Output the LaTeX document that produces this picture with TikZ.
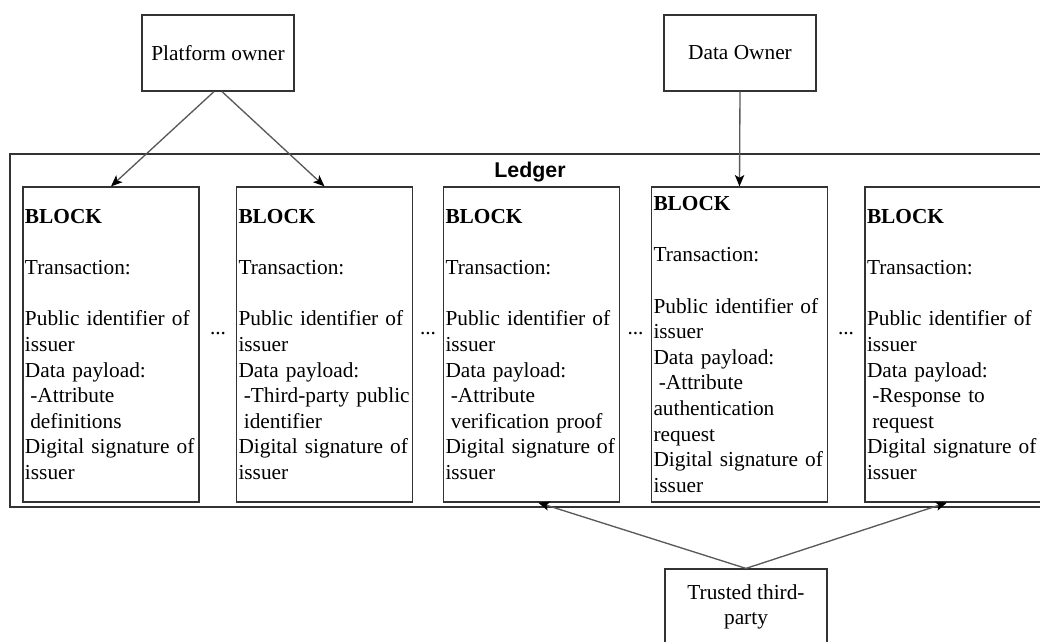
\documentclass[tikz,border=0pt]{standalone}
\usepackage{fontspec}
\setmainfont{Liberation Serif}
\newfontfamily\ledgerfont{Liberation Sans}
\usepackage{xcolor}
\usetikzlibrary{arrows.meta}
\definecolor{boxline}{HTML}{333333}
\definecolor{arrowline}{HTML}{595959}
\newcommand{\ind}{\hspace*{0.25em}}

\begin{document}
\begin{tikzpicture}[x=0.75pt, y=-0.75pt,
    actor/.style={draw=boxline, line width=0.9pt, minimum width=114pt, minimum height=57pt,
        align=center, inner sep=2pt, font=\fontsize{16pt}{19.2pt}\selectfont},
    blockbox/.style={draw=boxline, line width=0.9pt, minimum width=132pt, minimum height=236.25pt,
        text width=129pt, inner xsep=1.5pt, align=left, font=\fontsize{16pt}{19.2pt}\selectfont},
    gap/.style={font=\fontsize{16pt}{19.2pt}\selectfont, inner sep=0pt},
    link/.style={draw=arrowline, line width=1pt, -{Stealth[length=8.5pt, width=7pt, inset=2pt, color=black]}}]
        \useasboundingbox (0,0) rectangle (1040,642);

        % The ledger frame
        \node[draw=boxline, line width=0.9pt, minimum width=787.5pt, minimum height=264.75pt, inner sep=0pt] (ledger) at (535,330.5) {};
        \node[font=\ledgerfont\bfseries\fontsize{16pt}{19.2pt}\selectfont, anchor=base] (ledgerlabel) at (530,177) {Ledger};

        % The blocks
        \node[blockbox] (b1) at (111,344.5) {\textbf{BLOCK}\\[\baselineskip]Transaction:\\[\baselineskip]Public identifier of\\issuer\\Data payload:\\\ind-Attribute\\\ind definitions\\Digital signature of\\issuer};
        \node[blockbox] (b2) at (324.5,344.5) {\textbf{BLOCK}\\[\baselineskip]Transaction:\\[\baselineskip]Public identifier of\\issuer\\Data payload:\\\ind-Third-party public\\\ind identifier\\Digital signature of\\issuer};
        \node[blockbox] (b3) at (531.5,344.5) {\textbf{BLOCK}\\[\baselineskip]Transaction:\\[\baselineskip]Public identifier of\\issuer\\Data payload:\\\ind-Attribute\\\ind verification proof\\Digital signature of\\issuer};
        \node[blockbox] (b4) at (739.5,344.5) {\textbf{BLOCK}\\[\baselineskip]Transaction:\\[\baselineskip]Public identifier of\\issuer\\Data payload:\\\ind-Attribute\\authentication\\request\\Digital signature of\\issuer};
        \node[blockbox] (b5) at (953,344.5) {\textbf{BLOCK}\\[\baselineskip]Transaction:\\[\baselineskip]Public identifier of\\issuer\\Data payload:\\\ind-Response to\\\ind request\\Digital signature of\\issuer};

        % Dots between the blocks
        \node[gap] (d1) at (218,334) {...};
        \node[gap] (d2) at (428,334) {...};
        \node[gap] (d3) at (635.5,334) {...};
        \node[gap] (d4) at (846,334) {...};

        % The parties
        \node[actor] (po) at (218,53) {Platform owner};
        \node[actor] (do) at (740,53) {Data Owner};
        \node[actor, minimum width=121.5pt] (tp) at (746,607) {Trusted third-\\party};

        % Connections
        \draw[link] ([xshift=-3pt]po.south) -- (b1.north);
        \draw[link] ([xshift=3pt]po.south) -- (b2.north);
        \draw[link] (do.south) -- (b4.north);
        \draw[link] (tp.north) -- ([xshift=5pt]b3.south);
        \draw[link] (tp.north) -- ([xshift=-4.5pt]b5.south);
    \end{tikzpicture}
\end{document}
